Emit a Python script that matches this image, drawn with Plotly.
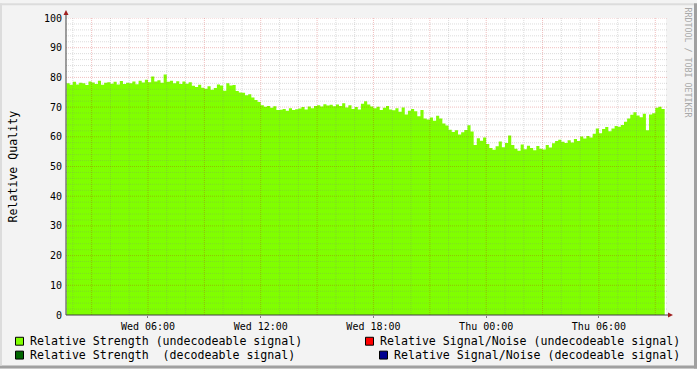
import plotly.graph_objects as go
import pandas as pd

# ---------------- data ----------------
start_time = "2024-01-03 01:40"   # Wednesday
step_minutes = 10
quality = [
    78.0, 77.5,
    78.5, 77.6, 78.2, 78.0, 77.4, 78.6,
    78.3, 77.8, 78.9, 77.5, 78.2, 78.4,
    77.9, 78.5, 77.6, 78.8, 77.8, 78.2,
    78.0, 78.6, 77.7, 78.9, 78.3, 79.2,
    78.4, 80.3, 78.6, 79.0, 78.2, 81.0,
    78.5, 78.9, 78.0, 78.7, 77.8, 78.6,
    77.9, 78.4, 77.2, 76.8, 77.5, 76.5,
    76.2, 77.0, 75.8, 76.4, 77.6, 77.3,
    75.5, 78.0, 77.3, 77.4, 75.4, 74.9,
    74.8, 74.0, 74.3, 73.2, 72.4, 71.7,
    70.6, 70.1, 70.4, 69.8, 70.3, 69.0,
    69.1, 69.4, 68.8, 69.6, 69.0, 69.3,
    69.5, 70.0, 69.2, 70.2, 69.6, 70.4,
    70.6, 70.2, 71.0, 70.5, 70.8, 70.3,
    70.9, 70.4, 71.3, 69.9, 70.6, 69.4,
    70.0, 69.2, 71.1, 72.0, 70.9, 70.2,
    69.6, 70.1, 69.0, 69.8, 70.4, 69.2,
    68.9, 69.6, 68.4, 69.9, 67.5, 68.8,
    69.4, 68.6, 66.9, 69.0, 66.2, 65.8,
    66.5, 65.4, 67.1, 66.2, 64.5, 63.8,
    62.4, 61.6, 62.2, 60.8, 61.5, 62.3,
    63.9, 61.8, 57.2, 59.5, 58.7, 59.8,
    57.6, 56.2, 55.6, 56.8, 58.4, 56.5,
    57.9, 60.4, 57.2, 56.0, 55.3, 57.4,
    55.8, 57.0, 56.2, 55.5, 56.9, 56.0,
    55.7, 57.2, 56.4, 57.8, 58.6, 59.0,
    58.3, 57.9, 58.8, 58.1, 59.3, 58.6,
    60.1, 59.4, 60.3, 59.8, 61.0, 62.8,
    61.2, 62.6, 63.3, 61.9, 62.8, 63.6,
    63.4, 64.0, 65.1, 66.2, 67.4, 68.3,
    67.2, 66.6, 67.8, 62.2, 67.5, 67.9,
    69.8, 70.1, 69.4,
]
x_range = ["2024-01-03 01:38:10", "2024-01-04 09:34:10"]
tick_times = ["2024-01-03 06:00", "2024-01-03 12:00", "2024-01-03 18:00",
              "2024-01-04 00:00", "2024-01-04 06:00"]
tick_labels = ["Wed 06:00", "Wed 12:00", "Wed 18:00", "Thu 00:00", "Thu 06:00"]
y_ticks = [0, 10, 20, 30, 40, 50, 60, 70, 80, 90, 100]
legend_items = [
    ("Relative Strength (undecodeable signal)", "#80FF00"),
    ("Relative Signal/Noise (undecodeable signal)", "#FF0000"),
    ("Relative Strength  (decodeable signal)", "#006600"),
    ("Relative Signal/Noise (decodeable signal)", "#000090"),
]
y_title = "Relative Quality"
watermark = "RRDTOOL / TOBI OETIKER"

# ---------------- layout geometry ----------------
W, H = 697, 369
L, R, T, B = 66, 666, 15, 315
FONT = "DejaVu Sans Mono"
MINOR = "rgba(128,128,128,0.28)"
MAJOR = "rgba(200,0,0,0.25)"

def px(xp):
    return (xp - L) / (R - L)

def py(yp):
    return (B - yp) / (B - T)

times = pd.date_range(start_time, periods=len(quality), freq=f"{step_minutes}min")
xs = list(times) + [times[-1] + pd.Timedelta(minutes=step_minutes)]
ys = quality + [quality[-1]]

fig = go.Figure()
fig.add_trace(go.Scatter(
    x=xs, y=ys, mode="lines", line=dict(width=0, color="#80FF00", shape="hv"),
    fill="tozeroy", fillcolor="#80FF00", showlegend=False, hoverinfo="skip"))

shapes = []
# vertical grid (hourly minor, 3-hourly major)
t0 = pd.Timestamp("2024-01-03 02:00")
for h in range(0, 32):
    t = t0 + pd.Timedelta(hours=h)
    major = (t.hour % 3 == 0)
    shapes.append(dict(type="line", xref="x", yref="paper", x0=t, x1=t, y0=0, y1=1,
                       layer="above",
                       line=dict(width=1, dash="1px,1px", color=MAJOR if major else MINOR)))
# horizontal grid
for v in range(2, 101, 2):
    major = (v % 10 == 0)
    shapes.append(dict(type="line", xref="paper", yref="y", x0=0, x1=1.003, y0=v, y1=v,
                       layer="above",
                       line=dict(width=1, dash="1px,1px", color=MAJOR if major else MINOR)))
# axes lines
shapes.append(dict(type="line", xref="paper", yref="paper", x0=px(66), x1=px(669),
                   y0=py(315), y1=py(315), layer="above", line=dict(width=1, color="#404040")))
shapes.append(dict(type="line", xref="paper", yref="paper", x0=px(66), x1=px(66),
                   y0=py(315), y1=py(11), layer="above", line=dict(width=1, color="#404040")))

def tri(points, color):
    path = "M " + " L ".join(f"{px(a)},{py(b)}" for a, b in points) + " Z"
    return dict(type="path", xref="paper", yref="paper", path=path, layer="above",
                fillcolor=color, line=dict(width=0))

shapes.append(tri([(668, 312.5), (673, 315), (668, 317.5)], "#A02020"))
shapes.append(tri([(63.5, 12), (66, 7), (68.5, 12)], "#A02020"))

# frame
shapes.append(dict(type="rect", xref="paper", yref="paper", x0=px(0), x1=px(697),
                   y0=py(369), y1=py(366), layer="below", fillcolor="#A0A0A0", line=dict(width=0)))
shapes.append(dict(type="rect", xref="paper", yref="paper", x0=px(694), x1=px(697),
                   y0=py(369), y1=py(0), layer="below", fillcolor="#A0A0A0", line=dict(width=0)))
shapes.append(dict(type="rect", xref="paper", yref="paper", x0=px(0), x1=px(694),
                   y0=py(2), y1=py(0), layer="below", fillcolor="#DCDCDC", line=dict(width=0)))
shapes.append(dict(type="rect", xref="paper", yref="paper", x0=px(0), x1=px(2),
                   y0=py(366), y1=py(0), layer="below", fillcolor="#DCDCDC", line=dict(width=0)))

annotations = []
# legend
legend_pos = [((15, 337), (30, 341)), ((365, 337), (380, 341)),
              ((15, 351), (30, 355)), ((379, 351), (394, 355))]
for (label, color), ((sx, sy), (tx, ty)) in zip(legend_items, legend_pos):
    shapes.append(dict(type="rect", xref="paper", yref="paper",
                       x0=px(sx + 0.5), x1=px(sx + 8.5), y0=py(sy + 8.5), y1=py(sy + 0.5),
                       fillcolor=color, line=dict(width=1, color="#000000")))
    annotations.append(dict(xref="paper", yref="paper", x=px(tx - 2), y=py(ty), text=label,
                            showarrow=False, xanchor="left", yanchor="middle",
                            font=dict(family=FONT, size=11.6, color="#000000")))
# y title
annotations.append(dict(xref="paper", yref="paper", x=px(12), y=py(165), text=y_title,
                        textangle=-90, showarrow=False, xanchor="center", yanchor="middle",
                        font=dict(family=FONT, size=11.6, color="#000000")))
# watermark
annotations.append(dict(xref="paper", yref="paper", x=px(688), y=py(60), text=watermark,
                        textangle=90, showarrow=False, xanchor="center", yanchor="middle",
                        font=dict(family=FONT, size=8.3, color="#A8A8A8")))

fig.update_layout(
    width=W, height=H,
    margin=dict(l=L, r=W - R, t=T, b=H - B, pad=0),
    paper_bgcolor="#F3F3F3", plot_bgcolor="#FFFFFF",
    showlegend=False,
    shapes=shapes, annotations=annotations,
    xaxis=dict(type="date", range=x_range, tickvals=tick_times, ticktext=tick_labels,
               showgrid=False, zeroline=False, showline=False,
               ticks="outside", ticklen=2, tickcolor="#808080",
               tickfont=dict(family=FONT, size=10, color="#000000")),
    yaxis=dict(range=[0, 100], tickvals=y_ticks, showgrid=False, zeroline=False,
               showline=False, ticks="", ticklabelstandoff=3,
               tickfont=dict(family=FONT, size=10, color="#000000")),
)

fig.write_html("out.html")
